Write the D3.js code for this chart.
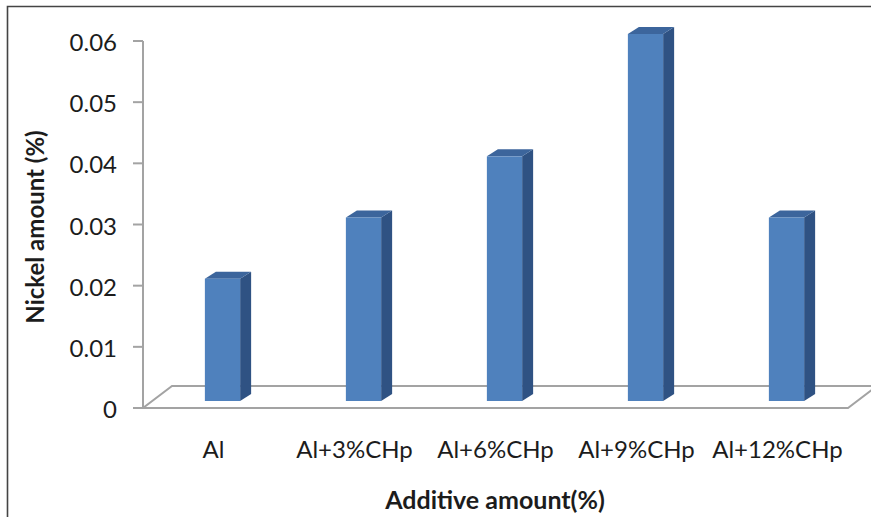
<!DOCTYPE html>
<html>
<head>
<meta charset="utf-8">
<script src="https://cdn.jsdelivr.net/npm/d3@7/dist/d3.min.js"></script>
<style>
  html, body { margin: 0; padding: 0; background: #fff; }
  svg { display: block; }
  text { font-family: Lato, "Open Sans", sans-serif; fill: #1c1c1c; }
</style>
</head>
<body>
<svg id="chart" width="871" height="517"></svg>
<script>
// Nickel content for each additive mix
const categories = ["Al", "Al+3%CHp", "Al+6%CHp", "Al+9%CHp", "Al+12%CHp"];
const nickel = [0.02, 0.03, 0.04, 0.06, 0.03];
const yTicks = [0, 0.01, 0.02, 0.03, 0.04, 0.05, 0.06];
const yTickLabels = ["0", "0.01", "0.02", "0.03", "0.04", "0.05", "0.06"];

const svg = d3.select("#chart");

// frame (left and top edges only)
svg.append("path")
  .attr("d", "M7.5,517 L7.5,6.5 L871,6.5")
  .attr("fill", "none").attr("stroke", "#444").attr("stroke-width", 1.6);

const x = d3.scaleBand().domain(categories).range([143, 848]).padding(0);
const y = d3.scaleLinear().domain([0, 0.06]).range([408, 41]);

// floor depth (perspective offset of the back edge)
const floorDx = 29, floorDy = -22;
// bars sit part-way into the floor
const barDx = 9, barDy = -7;
// depth of each column
const depthDx = 11, depthDy = -7;

const gridColor = "#a3a3a3";

// floor
const x0 = x.range()[0], x1 = x.range()[1], y0 = y(0);
svg.append("path")
  .attr("d", `M${x0},${y0} L${x1},${y0} L${x1 + floorDx},${y0 + floorDy} L${x0 + floorDx},${y0 + floorDy} Z`)
  .attr("fill", "none").attr("stroke", gridColor).attr("stroke-width", 2);

// y axis line and ticks
svg.append("line")
  .attr("x1", x0).attr("x2", x0).attr("y1", y(0.06)).attr("y2", y0)
  .attr("stroke", gridColor).attr("stroke-width", 2);
const tickG = svg.append("g");
tickG.selectAll("line").data(yTicks).join("line")
  .attr("x1", x0 - 10).attr("x2", x0)
  .attr("y1", d => y(d)).attr("y2", d => y(d))
  .attr("stroke", gridColor).attr("stroke-width", 2);
tickG.selectAll("text").data(yTicks).join("text")
  .attr("x", 117).attr("y", d => y(d) + 10)
  .attr("text-anchor", "end")
  .style("font-size", "24px")
  .text((d, i) => yTickLabels[i]);

// 3D columns
const bw = x.bandwidth() * 0.25;
const bars = svg.append("g").selectAll("g").data(categories).join("g");
bars.each(function(c, i) {
  const g = d3.select(this);
  const v = nickel[i];
  const left = x(c) + x.bandwidth() / 2 - bw / 2 + barDx;
  const right = left + bw;
  const bottom = y(0) + barDy;
  const top = y(v) + barDy;
  // side face
  g.append("path")
    .attr("d", `M${right},${bottom} L${right + depthDx},${bottom + depthDy} L${right + depthDx},${top + depthDy} L${right},${top} Z`)
    .attr("fill", "#2f5283");
  // top face
  g.append("path")
    .attr("d", `M${left},${top} L${left + depthDx},${top + depthDy} L${right + depthDx},${top + depthDy} L${right},${top} Z`)
    .attr("fill", "#3c659c");
  // front face
  g.append("rect")
    .attr("x", left).attr("y", top)
    .attr("width", bw).attr("height", bottom - top)
    .attr("fill", "#4f81bd");
});

// category labels
svg.append("g").selectAll("text").data(categories).join("text")
  .attr("x", d => x(d) + x.bandwidth() / 2)
  .attr("y", 458)
  .attr("text-anchor", "middle")
  .style("font-size", "24px")
  .text(d => d);

// axis titles
svg.append("text")
  .attr("x", 495).attr("y", 509)
  .attr("text-anchor", "middle")
  .style("font-size", "25px").style("font-weight", "bold")
  .text("Additive amount(%)");

svg.append("text")
  .attr("transform", "translate(44,227) rotate(-90)")
  .attr("text-anchor", "middle")
  .style("font-size", "24px").style("font-weight", "bold")
  .text("Nickel amount (%)");
</script>
</body>
</html>
